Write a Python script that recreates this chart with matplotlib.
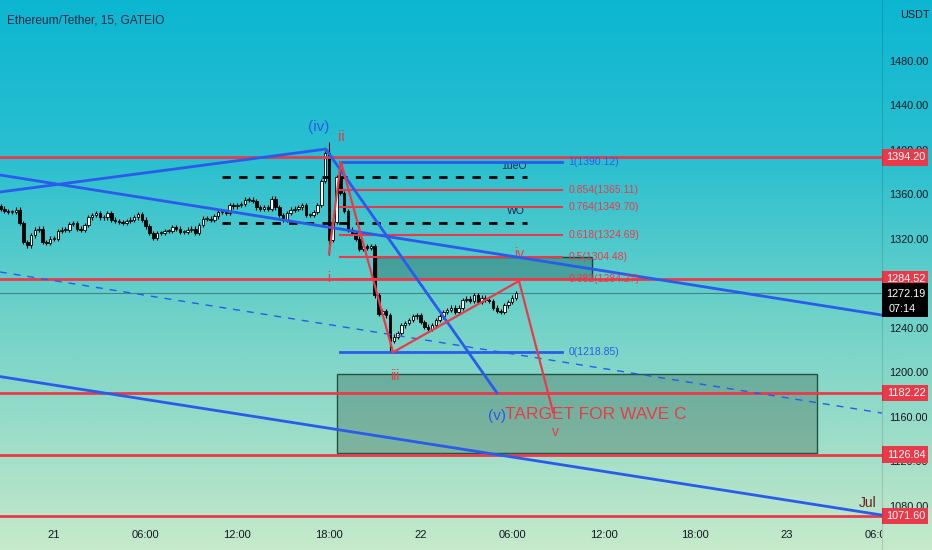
import matplotlib
matplotlib.use("Agg")
import numpy as np
import matplotlib.pyplot as plt
import matplotlib.transforms as mtransforms
from matplotlib import font_manager
from matplotlib.patches import Rectangle
from matplotlib.colors import LinearSegmentedColormap

_names = {f.name for f in font_manager.fontManager.ttflist}
if "Liberation Sans Narrow" in _names:
    plt.rcParams['font.family'] = ['Liberation Sans Narrow', 'DejaVu Sans']
    NARROW = True
else:
    plt.rcParams['font.family'] = ['Liberation Sans', 'DejaVu Sans']
    NARROW = False

# ------------------------------------------------------------------ data
# time axis: hours counted from 21 Jul 00:00, 15-minute candles
start_hour = -3.5
bar_hours = 0.25
first_open = 1350.0
closes_pre = [1348, 1346, 1345, 1345, 1347, 1335, 1318, 1315, 1324, 1329,
              1330, 1318, 1317, 1321, 1321, 1328, 1329, 1329, 1334, 1335,
              1330, 1329, 1333, 1340, 1342, 1344, 1340, 1340, 1344, 1338,
              1337, 1336, 1335, 1337, 1338, 1340, 1343, 1338, 1332, 1326,
              1322, 1326, 1326, 1328,
              1328, 1331, 1330, 1327, 1327, 1329, 1330, 1326, 1333, 1339,
              1339, 1338, 1341, 1345, 1345, 1344, 1351, 1350, 1351, 1352,
              1356, 1356, 1355, 1349, 1348, 1349, 1348, 1357, 1349, 1342,
              1338, 1344, 1347, 1348, 1349, 1351, 1342, 1342, 1345, 1351,
              1373, 1398]
closes_post = [1320, 1336, 1376, 1362, 1346, 1329, 1326, 1321, 1312, 1314,
               1313, 1314, 1270, 1253, 1256, 1252, 1229,
               1233, 1236, 1243, 1245, 1248, 1251, 1252, 1246, 1242, 1240,
               1243, 1248, 1251, 1255, 1257, 1259, 1255, 1259, 1266, 1267,
               1265, 1270, 1264, 1268, 1266, 1265, 1259, 1256, 1255, 1261,
               1264, 1268, 1272.19]
closes = closes_pre + closes_post
wick_overrides = {86: (1408, 1306), 89: (1391, None), 102: (None, 1219)}
default_wick = 2.0

last_price = 1272.19
countdown = "07:14"
title = "Ethereum/Tether, 15, GATEIO"

red_levels = [1394.20, 1284.52, 1182.22, 1126.84, 1071.60]
price_ticks = [1480, 1440, 1400, 1360, 1320, 1240, 1200, 1160, 1120, 1080]
time_ticks = [0, 6, 12, 18, 24, 30, 36, 42, 48, 54]
time_labels = ["21", "06:00", "12:00", "18:00", "22", "06:00", "12:00", "18:00", "23", "06:00"]

fib_ratios = ["1", "0.854", "0.764", "0.618", "0.5", "0.382", "0"]
fib_prices = [1390.12, 1365.11, 1349.70, 1324.69, 1304.48, 1284.27, 1218.85]
fib_colors = ["blue", "red", "red", "red", "red", "red", "blue"]
fib_span = [18.73, 33.27]

# trend lines (hour, price)
blue_rise = [(-3.54, 1362.9), (17.8, 1401.5)]
blue_iv_v = [(17.8, 1401.5), (29.01, 1182.2)]
blue_channel_top = [(-3.54, 1378.2), (54.22, 1252.3)]
blue_channel_low = [(-3.54, 1197.0), (54.22, 1072.5)]
blue_dashed = [(-3.54, 1291.0), (54.22, 1164.2)]
black_dashed_prices = [1376.6, 1335.3]
black_dashed_span = [11.0, 30.98]

wave_t = [18.01, 18.79, 22.2, 30.45, 32.68]
wave_p = [1307.1, 1390.12, 1218.85, 1282.9, 1165.1]

fib_box = (21.09, 35.23, 1284.27, 1304.48)
target_box = (18.53, 49.97, 1128.0, 1199.0)

# ------------------------------------------------------------------ style
RED = "#ea3a4a"
BLUE = "#2a5bea"
TXT = "#131722"
W, H = 932, 550
X_SPLIT = 882
YLIM = (1041.1, 1535.5)
XLIM = (-3.536, 54.22)

k = 1.12 if NARROW else 1.0
FS_AXIS = 7.8 * k
FS_TIME = 8.0 * k
FS_FIB = 7.5 * k
FS_TITLE = 8.6 * k
FS_TARGET = 12.5 * k
FS_WAVE = 11.0 * k

fig = plt.figure(figsize=(W / 100, H / 100), dpi=100)

# background gradient
bg = fig.add_axes([0, 0, 1, 1], zorder=-10)
cmap = LinearSegmentedColormap.from_list(
    "bg", [(0.0, "#0cb6d2"), (0.3, "#2cc0d0"), (0.58, "#70d2c8"),
           (0.85, "#a8e0c8"), (1.0, "#c6eacb")])
grad = np.linspace(0, 1, 256).reshape(-1, 1)
bg.imshow(grad, aspect="auto", cmap=cmap, extent=[0, 1, 0, 1], origin="upper")
bg.axis("off")

ax = fig.add_axes([0, 0, X_SPLIT / W, 1])
ax.set_xlim(*XLIM)
ax.set_ylim(*YLIM)
ax.axis("off")
ax.patch.set_alpha(0)

rax = fig.add_axes([X_SPLIT / W, 0, 1 - X_SPLIT / W, 1])
rax.set_xlim(0, 1)
rax.set_ylim(*YLIM)
rax.axis("off")
rax.patch.set_alpha(0)

fig.add_artist(plt.Line2D([X_SPLIT / W] * 2, [0, 1], color=(0, 0, 0, 0.12), lw=0.8))

# ---------------- candles
opens = [first_open] + closes[:-1]
bw = bar_hours * 0.66
for i, (o, c) in enumerate(zip(opens, closes)):
    t = start_hour + i * bar_hours
    hi = max(o, c) + default_wick
    lo = min(o, c) - default_wick
    if i in wick_overrides:
        h_o, l_o = wick_overrides[i]
        if h_o is not None:
            hi = h_o
        if l_o is not None:
            lo = l_o
    ax.vlines(t, lo, hi, color="black", lw=0.8, zorder=3)
    up = c >= o
    ax.add_patch(Rectangle((t - bw / 2, min(o, c)), bw, max(abs(c - o), 0.8),
                           fc="white" if up else "black", ec="black", lw=0.6, zorder=3.1))

# ---------------- boxes
x0, x1, y0, y1 = fib_box
ax.add_patch(Rectangle((x0, y0), x1 - x0, y1 - y0, fc=(0.12, 0.28, 0.24, 0.32),
                       ec="#1d3f3a", lw=1, zorder=2))
x0, x1, y0, y1 = target_box
ax.add_patch(Rectangle((x0, y0), x1 - x0, y1 - y0, fc=(0.18, 0.32, 0.25, 0.3),
                       ec="#1f5443", lw=1, zorder=2))

# ---------------- horizontal red levels
for lv in red_levels:
    ax.axhline(lv, color=RED, lw=2, zorder=4)

# last price line
ax.axhline(last_price, color="#3f6f75", lw=0.8, alpha=0.8, zorder=2.5)

# ---------------- blue lines
for seg in (blue_rise, blue_iv_v, blue_channel_top, blue_channel_low):
    (ta, pa), (tb, pb) = seg
    ax.plot([ta, tb], [pa, pb], color=BLUE, lw=2, zorder=4.5, solid_capstyle="round")
(ta, pa), (tb, pb) = blue_dashed
ax.plot([ta, tb], [pa, pb], color=BLUE, lw=1, ls=(0, (5, 5)), zorder=4.5)

# black dashed levels
for lv in black_dashed_prices:
    ax.plot(black_dashed_span, [lv, lv], color="black", lw=2, ls=(0, (3, 3)), zorder=4.2)

# fibonacci
for r, pr, col in zip(fib_ratios, fib_prices, fib_colors):
    cc = BLUE if col == "blue" else RED
    ax.plot(fib_span, [pr, pr], color=cc, lw=2 if col == "blue" else 1.5, zorder=4.3)
    ax.text(fib_span[1] + 0.4, pr, f"{r}({pr:.2f})", color=cc, fontsize=FS_FIB,
            ha="left", va="center", zorder=6)

# wave lines
ax.plot(wave_t, wave_p, color=RED, lw=1.6, zorder=4.6)

# ---------------- labels
ax.text(-3.1, 1517.5, title, color="#0f2a47", fontsize=FS_TITLE, ha="left", va="center")
ax.text(17.35, 1421.2, "(iv)", color=BLUE, fontsize=FS_WAVE, ha="center", va="center")
ax.text(18.79, 1412.2, "ii", color=RED, fontsize=FS_WAVE, ha="center", va="center")
ax.text(18.01, 1285.5, "i", color=RED, fontsize=FS_WAVE - 1, ha="center", va="center")
ax.text(22.33, 1197.5, "iii", color=RED, fontsize=FS_WAVE - 1, ha="center", va="center")
ax.text(30.45, 1307.0, "iv", color=RED, fontsize=FS_WAVE - 1, ha="center", va="center")
ax.text(32.81, 1147.0, "v", color=RED, fontsize=FS_WAVE - 1, ha="center", va="center")
ax.text(29.01, 1161.6, "(v)", color=BLUE, fontsize=FS_WAVE, ha="center", va="center")
ax.text(29.54, 1163.3, "TARGET FOR WAVE C", color=RED, fontsize=FS_TARGET, ha="left", va="center")
ax.text(30.12, 1386.0, "1ueO", color="#1a2750", fontsize=FS_FIB, ha="center", va="center")
ax.text(30.26, 1345.7, "WO", color="#1a2750", fontsize=FS_FIB, ha="center", va="center")
ax.text(53.3, 1083.0, "Jul", color="#6a1d1d", fontsize=FS_WAVE - 1, ha="center", va="center")

for t, lab in zip(time_ticks, time_labels):
    ax.text(t, 1054.6, lab, color=TXT, fontsize=FS_TIME, ha="center", va="center", clip_on=True)

# ---------------- right price axis
blend = mtransforms.blended_transform_factory(rax.transAxes, rax.transData)
rax.text(0.36, 1522, "USDT", color=TXT, fontsize=FS_AXIS, ha="left", va="center")
for pt in price_ticks:
    rax.text(0.14, pt, f"{pt:.2f}", color=TXT, fontsize=FS_AXIS, ha="left", va="center", zorder=2)
for lv in red_levels:
    rax.add_patch(Rectangle((0, lv - 7.5), 0.92, 15, fc=RED, ec="none", zorder=3,
                            transform=blend, clip_on=False))
    rax.text(0.48, lv, f"{lv:.2f}", color="white", fontsize=FS_AXIS, ha="center", va="center", zorder=4)
rax.add_patch(Rectangle((0, 1250.4), 0.92, 30.5, fc="black", ec="none", zorder=3,
                        transform=blend, clip_on=False))
rax.text(0.48, 1271.1, f"{last_price:.2f}", color="white", fontsize=FS_AXIS, ha="center", va="center", zorder=4)
rax.text(0.14, 1257.6, countdown, color="white", fontsize=FS_AXIS, ha="left", va="center", zorder=4)

fig.savefig("out.png", dpi=100)
